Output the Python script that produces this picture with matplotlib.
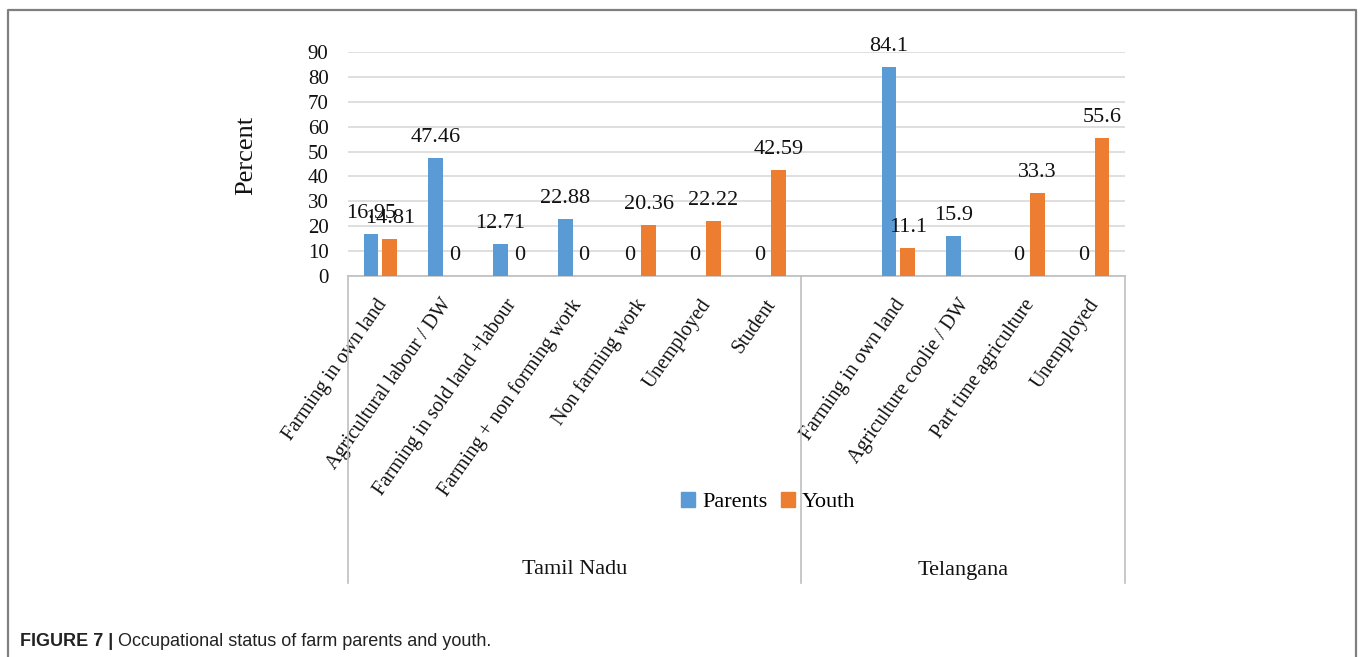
import matplotlib
matplotlib.use("Agg")
import matplotlib.pyplot as plt
from matplotlib.lines import Line2D
from matplotlib.transforms import blended_transform_factory
import numpy as np

# Category labels (an empty slot separates the two states)
categories = [
    "Farming in own land", "Agricultural labour / DW", "Farming in sold land +labour",
    "Farming + non forming work", "Non farming work", "Unemployed", "Student",
    "",
    "Farming in own land", "Agriculture coolie / DW", "Part time agriculture", "Unemployed",
]
groups = ["Tamil Nadu", "Telangana"]
group_bounds = [(0, 6), (7, 11)]

parents = [16.95, 47.46, 12.71, 22.88, 0, 0, 0, None, 84.1, 15.9, 0, 0]
youth = [14.81, 0, 0, 0, 20.36, 22.22, 42.59, None, 11.1, None, 33.3, 55.6]
yticks = [0, 10, 20, 30, 40, 50, 60, 70, 80, 90]

BLUE = "#5B9BD5"
ORANGE = "#ED7D31"
GRID = "#D9D9D9"
SERIF = "Liberation Serif"
INK = "#111111"

W, H = 1360, 657
fig = plt.figure(figsize=(W / 100, H / 100), dpi=100)
fig.patch.set_facecolor("white")

ax = fig.add_axes([348 / W, 1 - 276 / H, (1125 - 348) / W, (276 - 52) / H])
x = np.arange(len(categories))
bw = 0.23
off = 0.145

for vals, sign, color in [(parents, -1, BLUE), (youth, 1, ORANGE)]:
    for i, v in enumerate(vals):
        if v is None:
            continue
        ax.bar(x[i] + sign * off, v, width=bw, color=color, zorder=3)
        ax.annotate(f"{v:g}", xy=(x[i] + sign * off, v), xytext=(0, 8),
                    textcoords="offset points", ha="center", va="bottom",
                    fontsize=16, family=SERIF, color=INK)

ax.set_xlim(-0.5, len(categories) - 0.5)
ax.set_ylim(0, 90)
ax.set_yticks(yticks)
ax.yaxis.grid(True, color=GRID, linewidth=1.2, zorder=0)
ax.set_axisbelow(True)
for s in ["left", "right", "top"]:
    ax.spines[s].set_visible(False)
ax.spines["bottom"].set_color("#BFBFBF")
ax.spines["bottom"].set_linewidth(1.2)
ax.tick_params(axis="y", length=0, pad=14, labelsize=15)
ax.tick_params(axis="x", length=0, labelbottom=False)
for lab in ax.get_yticklabels():
    lab.set_family(SERIF)
    lab.set_color(INK)

# Rotated category labels below the axis
for i, c in enumerate(categories):
    if not c:
        continue
    ax.annotate(c, xy=(x[i], 0), xytext=(3, -25), textcoords="offset pixels",
                rotation=55, rotation_mode="anchor", ha="right", va="center",
                fontsize=14.5, family=SERIF, color=INK, annotation_clip=False)

# Group separators and group names
bt = blended_transform_factory(ax.transData, fig.transFigure)
y_top, y_bot = 1 - 276 / H, 1 - 583 / H
for xv in [-0.5, 6.5, len(categories) - 0.5]:
    fig.add_artist(Line2D([xv, xv], [y_top, y_bot], transform=bt,
                          color="#BFBFBF", linewidth=1.2))
for g, (a, b) in zip(groups, group_bounds):
    fig.text((a + b) / 2, 1 - 570 / H, g, transform=bt, ha="center", va="center",
             fontsize=16, family=SERIF, color=INK)

fig.text(246 / W, 1 - 155 / H, "Percent", rotation=90, ha="center", va="center",
         fontsize=19, family=SERIF, color=INK)

handles = [plt.Rectangle((0, 0), 1, 1, color=BLUE), plt.Rectangle((0, 0), 1, 1, color=ORANGE)]
fig.legend(handles, ["Parents", "Youth"], loc="center", bbox_to_anchor=(768 / W, 1 - 502 / H),
           ncol=2, frameon=False, handlelength=0.65, handleheight=0.65, handletextpad=0.3,
           columnspacing=0.6, prop={"family": SERIF, "size": 16})

# Outer frame (open at the bottom)
frame_color = "#7F7F7F"
fx0, fx1, fy = 8 / W, 1356 / W, 1 - 10 / H
fig.add_artist(Line2D([fx0, fx0, fx1, fx1], [0, fy, fy, 0], transform=fig.transFigure,
                      color=frame_color, linewidth=1.6))

# Caption
t1 = fig.text(20 / W, 1 - 641 / H, "FIGURE 7 |", ha="left", va="center",
              fontsize=13, family="Liberation Sans", weight="bold", color="#222222")
ax.annotate(" Occupational status of farm parents and youth.", xy=(1, 0.5), xycoords=t1,
            ha="left", va="center", fontsize=13, family="Liberation Sans",
            color="#222222", annotation_clip=False)

fig.savefig("out.png", dpi=100, facecolor="white")
